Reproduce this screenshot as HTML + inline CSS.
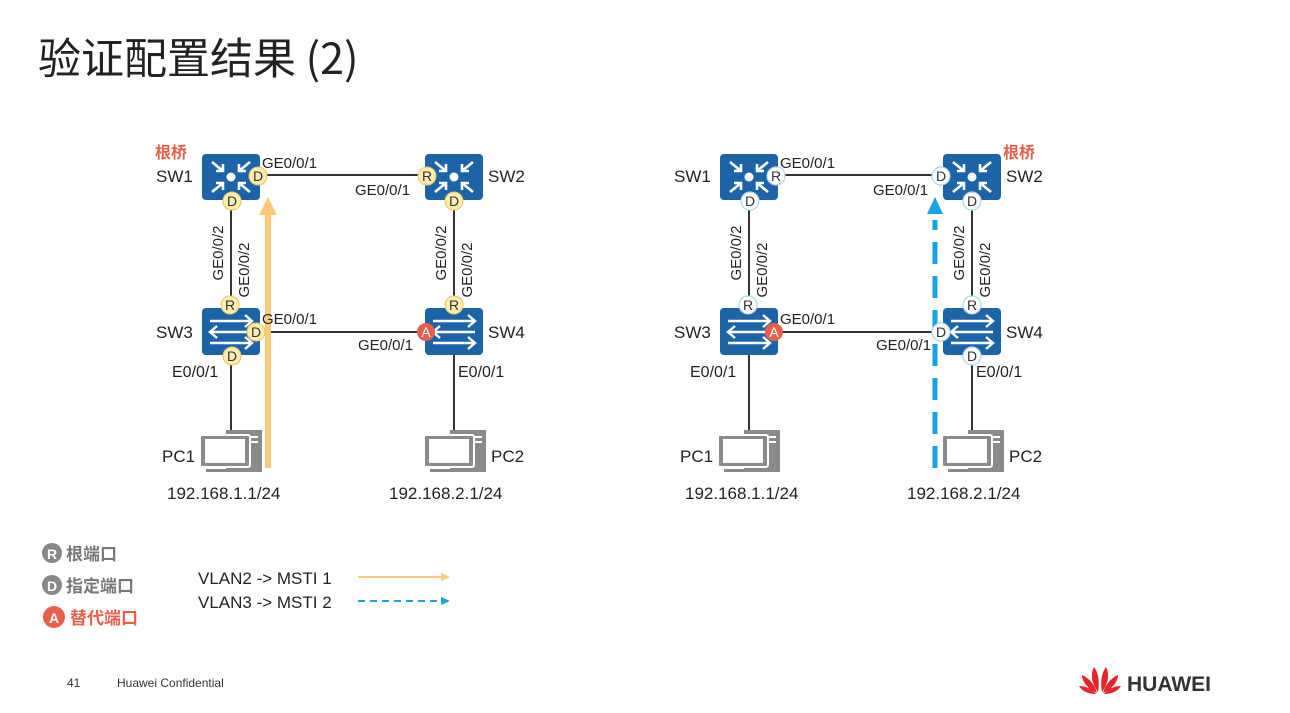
<!DOCTYPE html>
<html><head><meta charset="utf-8"><style>
body{margin:0;background:#fff;}
svg{display:block;font-family:"Liberation Sans","Noto Sans CJK SC",sans-serif;}
</style></head><body>
<svg width="1290" height="713" viewBox="0 0 1290 713" xmlns="http://www.w3.org/2000/svg">
<defs>
<g id="core">
 <rect x="0" y="0" width="58" height="46" rx="4" fill="#1d63a8"/>
 <circle cx="29" cy="23" r="4.5" fill="#fff"/>
 <g stroke="#fff" stroke-width="2.6" fill="none">
  <path d="M10 8 L21 17 M14 17 H21 V10"/>
  <path d="M48 8 L37 17 M44 17 H37 V10"/>
  <path d="M10 38 L21 29 M14 29 H21 V36"/>
  <path d="M48 38 L37 29 M44 29 H37 V36"/>
 </g>
</g>
<g id="acc">
 <rect x="0" y="0" width="58" height="47" rx="4" fill="#1d63a8"/>
 <g stroke="#fff" stroke-width="2.4" fill="none">
  <path d="M8 13 H50 M43 7 L50 13 L43 19"/>
  <path d="M8 24 H50 M15 18 L8 24 L15 30"/>
  <path d="M8 35 H50 M43 29 L50 35 L43 41"/>
 </g>
</g>
<g id="pc">
 <rect x="26" y="0" width="36" height="42" fill="#8a8a8a"/>
 <rect x="44" y="6" width="14" height="2" fill="#fff"/>
 <rect x="44" y="11" width="14" height="2" fill="#fff"/>
 <rect x="0" y="5" width="50" height="32" rx="2" fill="#8a8a8a" stroke="#fff" stroke-width="2"/>
 <rect x="5" y="9" width="40" height="24" fill="#fff"/>
 <rect x="6" y="39" width="36" height="3" fill="#8a8a8a"/>
</g>
</defs>

<text x="38" y="74" font-size="43" fill="#222" font-family="'Noto Sans CJK SC',sans-serif">验证配置结果 (2)</text>

<!-- LEFT DIAGRAM -->
<g stroke="#333" stroke-width="2">
 <line x1="258" y1="175" x2="427" y2="175"/>
 <line x1="256" y1="332" x2="427" y2="332"/>
 <line x1="231" y1="200" x2="231" y2="308"/>
 <line x1="454" y1="200" x2="454" y2="308"/>
 <line x1="231" y1="355" x2="231" y2="430"/>
 <line x1="454" y1="355" x2="454" y2="430"/>
</g>
<use href="#core" x="202" y="154"/>
<use href="#core" x="425" y="154"/>
<use href="#acc" x="202" y="308"/>
<use href="#acc" x="425" y="308"/>
<use href="#pc" x="200" y="430"/>
<use href="#pc" x="424" y="430"/>
<rect x="265" y="214" width="6" height="254" fill="#fdc97a"/>
<polygon points="268,197 259,215 277,215" fill="#fdc97a"/>
<g font-size="14" text-anchor="middle" fill="#333">
 <g fill="#fdeeb0" stroke="#f0c060" stroke-width="1">
  <circle cx="258" cy="176" r="9"/><circle cx="232" cy="201" r="9"/>
  <circle cx="427" cy="176" r="9"/><circle cx="454" cy="201" r="9"/>
  <circle cx="230" cy="305" r="9"/><circle cx="256" cy="332" r="9"/>
  <circle cx="232" cy="356" r="9"/><circle cx="454" cy="305" r="9"/>
 </g>
 <circle cx="426" cy="332" r="9" fill="#e8604c"/>
 <text x="258" y="181">D</text><text x="232" y="206">D</text>
 <text x="427" y="181">R</text><text x="454" y="206">D</text>
 <text x="230" y="310">R</text><text x="256" y="337">D</text>
 <text x="232" y="361">D</text><text x="454" y="310">R</text>
 <text x="426" y="337" fill="#fff">A</text>
</g>
<g font-size="15" fill="#222">
 <text x="155" y="158" fill="#e8604c" font-weight="bold" font-size="16">根桥</text>
 <text x="156" y="182" font-size="17">SW1</text>
 <text x="488" y="182" font-size="17">SW2</text>
 <text x="156" y="338" font-size="17">SW3</text>
 <text x="488" y="338" font-size="17">SW4</text>
 <text x="262" y="168">GE0/0/1</text>
 <text x="355" y="195">GE0/0/1</text>
 <text x="262" y="324">GE0/0/1</text>
 <text x="358" y="350">GE0/0/1</text>
 <text x="172" y="377" font-size="16">E0/0/1</text>
 <text x="458" y="377" font-size="16">E0/0/1</text>
 <text transform="translate(223,253) rotate(-90)" text-anchor="middle">GE0/0/2</text>
 <text transform="translate(249,270) rotate(-90)" text-anchor="middle">GE0/0/2</text>
 <text transform="translate(446,253) rotate(-90)" text-anchor="middle">GE0/0/2</text>
 <text transform="translate(472,270) rotate(-90)" text-anchor="middle">GE0/0/2</text>
 <text x="162" y="462" font-size="17">PC1</text>
 <text x="491" y="462" font-size="17">PC2</text>
 <text x="167" y="499" font-size="17">192.168.1.1/24</text>
 <text x="389" y="499" font-size="17">192.168.2.1/24</text>
</g>

<!-- RIGHT DIAGRAM -->
<g transform="translate(518,0)">
<g stroke="#333" stroke-width="2">
 <line x1="258" y1="175" x2="427" y2="175"/>
 <line x1="256" y1="332" x2="427" y2="332"/>
 <line x1="231" y1="200" x2="231" y2="308"/>
 <line x1="454" y1="200" x2="454" y2="308"/>
 <line x1="231" y1="355" x2="231" y2="430"/>
 <line x1="454" y1="355" x2="454" y2="430"/>
</g>
<use href="#core" x="202" y="154"/>
<use href="#core" x="425" y="154"/>
<use href="#acc" x="202" y="308"/>
<use href="#acc" x="425" y="308"/>
<use href="#pc" x="200" y="430"/>
<use href="#pc" x="424" y="430"/>
<line x1="417" y1="468" x2="417" y2="220" stroke="#1aa3e0" stroke-width="5" stroke-dasharray="22,12"/>
<polygon points="417,197 409,214 425,214" fill="#1aa3e0"/>
<g font-size="14" text-anchor="middle" fill="#333">
 <g fill="#fff" stroke="#a8d8f0" stroke-width="1.2">
  <circle cx="258" cy="176" r="9"/><circle cx="232" cy="201" r="9"/>
  <circle cx="423" cy="176" r="9"/><circle cx="454" cy="201" r="9"/>
  <circle cx="230" cy="305" r="9"/><circle cx="423" cy="332" r="9"/>
  <circle cx="454" cy="356" r="9"/><circle cx="454" cy="305" r="9"/>
 </g>
 <circle cx="256" cy="332" r="9" fill="#e8604c"/>
 <text x="258" y="181">R</text><text x="232" y="206">D</text>
 <text x="423" y="181">D</text><text x="454" y="206">D</text>
 <text x="230" y="310">R</text><text x="423" y="337">D</text>
 <text x="454" y="361">D</text><text x="454" y="310">R</text>
 <text x="256" y="337" fill="#fff">A</text>
</g>
<g font-size="15" fill="#222">
 <text x="485" y="158" fill="#e8604c" font-weight="bold" font-size="16">根桥</text>
 <text x="156" y="182" font-size="17">SW1</text>
 <text x="488" y="182" font-size="17">SW2</text>
 <text x="156" y="338" font-size="17">SW3</text>
 <text x="488" y="338" font-size="17">SW4</text>
 <text x="262" y="168">GE0/0/1</text>
 <text x="355" y="195">GE0/0/1</text>
 <text x="262" y="324">GE0/0/1</text>
 <text x="358" y="350">GE0/0/1</text>
 <text x="172" y="377" font-size="16">E0/0/1</text>
 <text x="458" y="377" font-size="16">E0/0/1</text>
 <text transform="translate(223,253) rotate(-90)" text-anchor="middle">GE0/0/2</text>
 <text transform="translate(249,270) rotate(-90)" text-anchor="middle">GE0/0/2</text>
 <text transform="translate(446,253) rotate(-90)" text-anchor="middle">GE0/0/2</text>
 <text transform="translate(472,270) rotate(-90)" text-anchor="middle">GE0/0/2</text>
 <text x="162" y="462" font-size="17">PC1</text>
 <text x="491" y="462" font-size="17">PC2</text>
 <text x="167" y="499" font-size="17">192.168.1.1/24</text>
 <text x="389" y="499" font-size="17">192.168.2.1/24</text>
</g>
</g>

<!-- LEGEND -->
<g font-size="17" font-weight="bold" font-family="'Noto Sans CJK SC',sans-serif">
 <circle cx="52" cy="553" r="10" fill="#888"/>
 <text x="52" y="559" fill="#fff" text-anchor="middle" font-size="14" font-family="'Liberation Sans',sans-serif">R</text>
 <text x="66" y="560" fill="#777">根端口</text>
 <circle cx="52" cy="585" r="10" fill="#888"/>
 <text x="52" y="591" fill="#fff" text-anchor="middle" font-size="14" font-family="'Liberation Sans',sans-serif">D</text>
 <text x="66" y="592" fill="#777">指定端口</text>
 <circle cx="54" cy="617" r="11" fill="#e8604c"/>
 <text x="54" y="623" fill="#fff" text-anchor="middle" font-size="14" font-family="'Liberation Sans',sans-serif">A</text>
 <text x="70" y="624" fill="#e8604c">替代端口</text>
</g>
<g font-size="17" fill="#222">
 <text x="198" y="584">VLAN2 -&gt; MSTI 1</text>
 <text x="198" y="608">VLAN3 -&gt; MSTI 2</text>
</g>
<line x1="358" y1="577" x2="443" y2="577" stroke="#fdc97a" stroke-width="2"/>
<polygon points="450,577 441,573 441,581" fill="#fdc97a"/>
<line x1="358" y1="601" x2="441" y2="601" stroke="#1aa3e0" stroke-width="2" stroke-dasharray="7,5"/>
<polygon points="450,601 441,597 441,605" fill="#1aa3e0"/>

<!-- FOOTER -->
<text x="67" y="687" font-size="12" fill="#333">41</text>
<text x="117" y="687" font-size="12" fill="#333">Huawei Confidential</text>
<g transform="translate(1100,692)" fill="#e4262c">
 <path d="M-2 0 C-8 -8 -10 -18 -6 -25 C-2 -20 0 -10 -2 0Z"/>
 <path d="M2 0 C8 -8 10 -18 6 -25 C2 -20 0 -10 2 0Z"/>
 <path d="M-3 1 C-12 -3 -18 -10 -18 -17 C-11 -14 -5 -7 -3 1Z"/>
 <path d="M3 1 C12 -3 18 -10 18 -17 C11 -14 5 -7 3 1Z"/>
 <path d="M-4 2 C-12 2 -18 -1 -21 -6 C-14 -6 -8 -3 -4 2Z"/>
 <path d="M4 2 C12 2 18 -1 21 -6 C14 -6 8 -3 4 2Z"/>
</g>
<text x="1127" y="691" font-size="21" font-weight="bold" fill="#333">HUAWEI</text>
</svg>
</body></html>
